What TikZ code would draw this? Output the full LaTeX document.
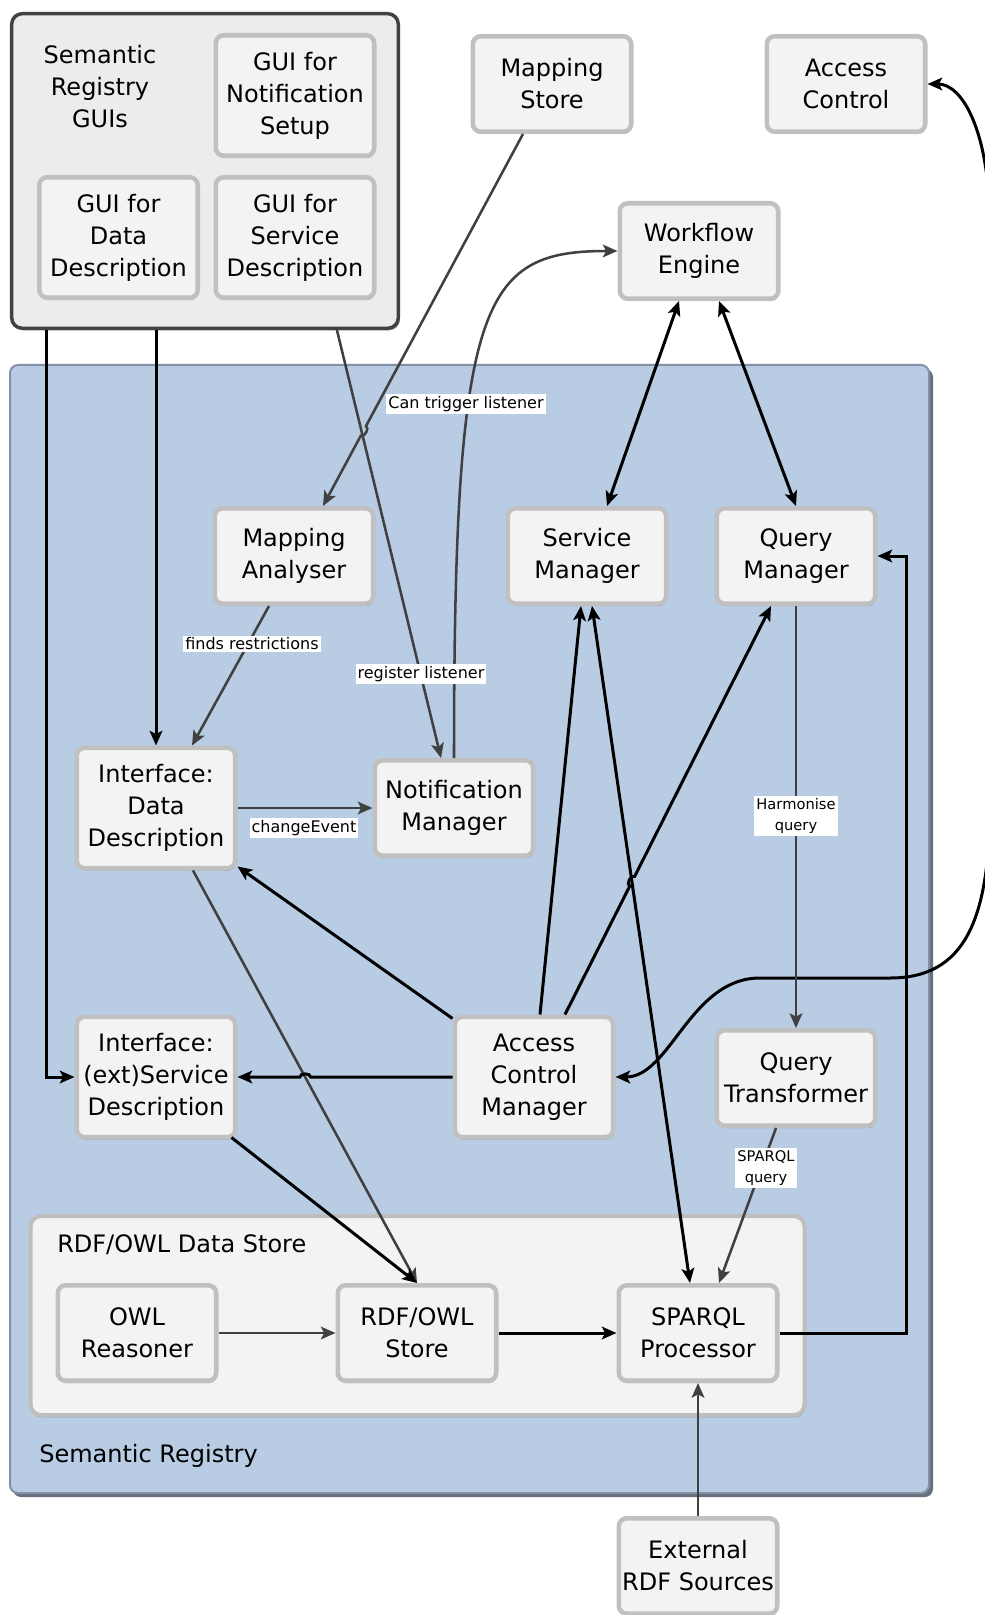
\documentclass[tikz,border=0pt]{standalone}
\usepackage{fontspec}
\setmainfont{DejaVu Sans}
\usetikzlibrary{calc,arrows.meta,shadows}

\definecolor{regblue}{RGB}{184,204,228}
\definecolor{regedge}{RGB}{130,145,165}
\definecolor{regshadow}{RGB}{105,112,125}
\definecolor{nodefill}{RGB}{243,243,243}
\definecolor{nodeedge}{RGB}{192,192,192}
\definecolor{guifill}{RGB}{236,236,236}
\definecolor{guiedge}{RGB}{66,66,66}
\definecolor{storefill}{RGB}{243,243,243}
\definecolor{storeedge}{RGB}{190,190,190}
\definecolor{ln}{RGB}{64,64,64}

\begin{document}
\begin{tikzpicture}[x=0.75pt,y=-0.75pt,
  >={Stealth[length=11pt,width=9.5pt,inset=2.5pt]},
  comp/.style={draw=nodeedge, line width=3.4pt, fill=nodefill, rounded corners=6pt,
    minimum width=118.85pt, minimum height=71.6pt, align=center, inner sep=0pt,
    font=\fontsize{18}{24}\selectfont,
    drop shadow={shadow xshift=0.6pt, shadow yshift=-1.8pt, fill=black, opacity=0.22}},
  tall/.style={minimum height=90.35pt},
  blk/.style={draw=black, line width=2.25pt},
  gry/.style={draw=ln, line width=1.9pt},
  lbl/.style={fill=white, inner sep=1.5pt, font=\fontsize{12}{14}\selectfont},
  lbltwo/.style={fill=white, inner sep=1.5pt, align=center, font=\fontsize{11}{16}\selectfont},
  ttl/.style={font=\fontsize{18}{24}\selectfont, inner sep=0pt}
]
\useasboundingbox (0,0) rectangle (984,1615);

% ---- containers ----
\fill[regshadow, rounded corners=6pt] (13,369) rectangle (933,1497);
\draw[fill=regblue, draw=regedge, line width=1.5pt, rounded corners=6pt] (10,365) rectangle (929,1493);
\node[draw=storeedge, fill=storefill, line width=3pt, rounded corners=8pt,
      minimum width=580.5pt, minimum height=149.25pt, inner sep=0pt,
      drop shadow={shadow xshift=0.6pt, shadow yshift=-1.8pt, fill=black, opacity=0.22}] (store) at (417.5,1315.5) {};
\node[draw=guiedge, fill=guifill, line width=2.6pt, rounded corners=8pt,
      minimum width=290pt, minimum height=236pt, inner sep=0pt,
      drop shadow={shadow xshift=1.2pt, shadow yshift=-1.5pt, fill=black, opacity=0.35}] (gui) at (205,171) {};

\node[ttl, align=center] (guititle) at (100,87) {Semantic\\Registry\\GUIs};
\node[ttl, anchor=west] (storetitle) at (57,1245) {RDF/OWL Data Store};
\node[ttl, anchor=west] (srtitle) at (39,1456) {Semantic Registry};

% ---- nodes ----
\node[comp,tall] (gn) at (295,95.5) {GUI for\\Notification\\Setup};
\node[comp,tall] (gd) at (118.5,237.5) {GUI for\\Data\\Description};
\node[comp,tall] (gs) at (295,237.5) {GUI for\\Service\\Description};

\node[comp] (ms) at (552,84) {Mapping\\Store};
\node[comp] (ac) at (846,84) {Access\\Control};
\node[comp] (wf) at (699,251) {Workflow\\Engine};
\node[comp] (ma) at (294,556) {Mapping\\Analyser};
\node[comp] (sm) at (587,556) {Service\\Manager};
\node[comp] (qm) at (796,556) {Query\\Manager};
\node[comp,tall] (idd) at (156,808) {Interface:\\Data\\Description};
\node[comp] (nm) at (454,808) {Notification\\Manager};
\node[comp,tall] (ies) at (156,1077) {Interface:\\(ext)Service\\Description};
\node[comp,tall] (acm) at (534,1077) {Access\\Control\\Manager};
\node[comp] (qt) at (796,1078) {Query\\Transformer};
\node[comp] (owl) at (137,1333) {OWL\\Reasoner};
\node[comp] (rdf) at (417,1333) {RDF/OWL\\Store};
\node[comp] (sp) at (698,1333) {SPARQL\\Processor};
\node[comp] (ext) at (698,1566) {External\\RDF Sources};

% ---- helper coordinates ----
\coordinate (mso) at ($(ms.south)+(-29,0)$);
\coordinate (mai) at ($(ma.north)+(29,0)$);
\coordinate (acmo) at ($(acm.north)+(31,0)$);
\coordinate (qmi) at ($(qm.south)+(-25,0)$);

% ---- connectors ----
\draw[blk,->] ($(gui.south west)+(37,0)$) |- (ies.west);
\draw[blk,->] (gui.south -| idd.north) -- (idd.north);
\draw[gry,->] ($(gui.south west)+(327,0)$) -- ($(nm.north)+(-13,0)$);
\draw[gry,->] (mso) -- ($(mso)!0.785!(mai)$) to[bend left=90] ($(mso)!0.811!(mai)$) -- (mai);
\draw[gry,->] (nm.north) .. controls +(0,-459) and +(-136,0) .. (wf.west);
\draw[blk,<->] ($(wf.south)+(-20,0)$) -- ($(sm.north)+(20,0)$);
\draw[blk,<->] ($(wf.south)+(20,0)$) -- (qm.north);
\draw[blk,<->] (acm.east) .. controls +(55,0) and (690,978) .. (760,978) -- (890,978)
   .. controls (965,978) and (990,920) .. (990,800) -- (990,230)
   .. controls (990,130) and (962,84) .. (ac.east);
\draw[blk,->] ($(acm.north)+(6,0)$) -- ($(sm.south)+(-6,0)$);
\draw[blk,<->] ($(sp.north)+(-8,0)$) -- ($(sm.south)+(5,0)$);
\draw[blk,->] (acmo) -- ($(acmo)!0.314!(qmi)$) to[bend left=90] ($(acmo)!0.338!(qmi)$) -- (qmi);
\draw[gry,->] (qm.south) -- (qt.north);
\draw[gry,->] ($(qt.south)+(-20,0)$) -- ($(sp.north)+(21,0)$);
\draw[blk,->] (sp.east) -- ++(127,0) |- (qm.east);
\draw[blk,->] (rdf.east) -- (sp.west);
\draw[gry,->] (owl.east) -- (rdf.west);
\draw[gry,->] ($(idd.south)+(37,0)$) -- (rdf.north);
\draw[blk,->] ($(ies.south east)+(-6,-2)$) -- (rdf.north);
\draw[blk,->] (acm.west) -- ($(acm.west)!0.660!(ies.east)$) to[bend right=90] ($(acm.west)!0.710!(ies.east)$) -- (ies.east);
\draw[blk,->] ($(acm.north west)+(0,4)$) -- ($(idd.south east)+(0,-4)$);
\draw[gry,->] (idd.east) -- (nm.west);
\draw[gry,->] ($(ma.south)+(-25,0)$) -- ($(idd.north)+(36,0)$);
\draw[gry,->] (ext.north) -- (sp.south);

% ---- labels ----
\node[lbl] (l1) at (466,404) {Can trigger listener};
\node[lbl] (l2) at (421,674) {register listener};
\node[lbl] (l3) at (252,644) {finds restrictions};
\node[lbl] (l4) at (304,828) {changeEvent};
\node[lbltwo] (l5) at (796,816) {Harmonise\\query};
\node[lbltwo] (l6) at (766,1168) {SPARQL\\query};
\end{tikzpicture}
\end{document}
